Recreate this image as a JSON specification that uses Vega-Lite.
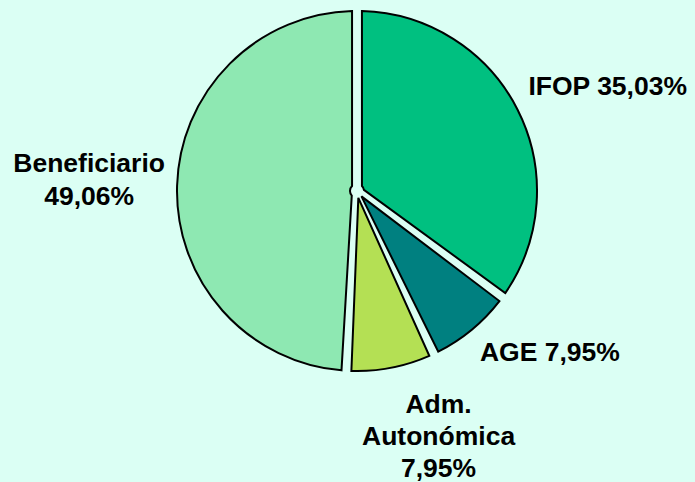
{
  "$schema": "https://vega.github.io/schema/vega-lite/v6.json",
  "width": 360,
  "height": 360,
  "autosize": "none",
  "padding": {"left": 177, "top": 11, "right": 158, "bottom": 111},
  "background": "#dbfff4",
  "config": {"view": {"stroke": null}},
  "data": {
    "values": [
      {"idx": 1, "category": "IFOP", "value": 35.03, "label": "IFOP 35,03%"},
      {"idx": 2, "category": "AGE", "value": 7.95, "label": "AGE 7,95%"},
      {"idx": 3, "category": "Adm. Autonómica", "value": 7.95, "label": ["Adm.", "Autonómica", "7,95%"]},
      {"idx": 4, "category": "Beneficiario", "value": 49.06, "label": ["Beneficiario", "49,06%"]}
    ]
  },
  "encoding": {
    "theta": {"field": "value", "type": "quantitative", "stack": true},
    "order": {"field": "idx", "type": "ordinal"}
  },
  "layer": [
    {
      "mark": {"type": "arc", "outerRadius": 180, "innerRadius": 7, "padAngle": 0.055, "stroke": "#000000", "strokeWidth": 2},
      "encoding": {
        "color": {
          "field": "category",
          "type": "nominal",
          "scale": {
            "domain": ["IFOP", "AGE", "Adm. Autonómica", "Beneficiario"],
            "range": ["#00c080", "#008080", "#b4e054", "#8ee8b2"]
          },
          "legend": null
        }
      }
    },
    {
      "mark": {"type": "text", "radius": 270, "dx": 10, "dy": 18, "font": "Liberation Sans", "fontWeight": "bold", "fontSize": 26.5, "lineHeight": 33, "align": "center", "baseline": "middle", "fill": "#000000"},
      "encoding": {
        "detail": {"field": "category"},
        "text": {"condition": {"test": "datum.category === 'IFOP'", "field": "label"}, "value": ""}
      }
    },
    {
      "mark": {"type": "text", "radius": 240, "dx": 40, "dy": -23, "font": "Liberation Sans", "fontWeight": "bold", "fontSize": 26.5, "lineHeight": 33, "align": "center", "baseline": "middle", "fill": "#000000"},
      "encoding": {
        "detail": {"field": "category"},
        "text": {"condition": {"test": "datum.category === 'AGE'", "field": "label"}, "value": ""}
      }
    },
    {
      "mark": {"type": "text", "radius": 240, "dx": 36, "dy": -22, "font": "Liberation Sans", "fontWeight": "bold", "fontSize": 26.5, "lineHeight": 32, "align": "center", "baseline": "middle", "fill": "#000000"},
      "encoding": {
        "detail": {"field": "category"},
        "text": {"condition": {"test": "datum.category === 'Adm. Autonómica'", "field": "label"}, "value": ""}
      }
    },
    {
      "mark": {"type": "text", "radius": 268, "dx": 0, "dy": -19, "font": "Liberation Sans", "fontWeight": "bold", "fontSize": 26.5, "lineHeight": 33, "align": "center", "baseline": "middle", "fill": "#000000"},
      "encoding": {
        "detail": {"field": "category"},
        "text": {"condition": {"test": "datum.category === 'Beneficiario'", "field": "label"}, "value": ""}
      }
    }
  ]
}
